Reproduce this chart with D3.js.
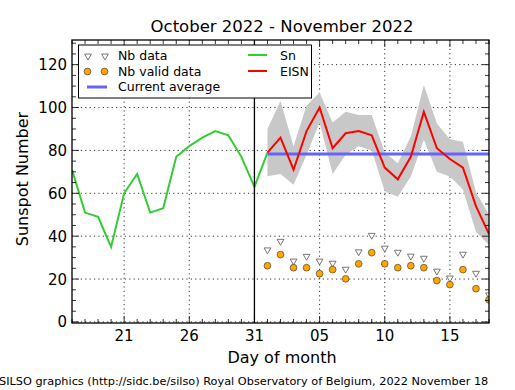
<!DOCTYPE html>
<html>
<head>
<meta charset="utf-8">
<script src="https://cdn.jsdelivr.net/npm/d3@7"></script>
<style>
html,body{margin:0;padding:0;background:#fff;}
svg{display:block;}
text{font-family:"DejaVu Sans",sans-serif;}
</style>
</head>
<body>
<svg id="chart" width="515" height="390"></svg>
<script>
// ---- data ----
const snStart = "2022-10-17";
const snValues = [71, 51, 49, 35, 60, 69, 51, 53, 77, 82, 86, 89, 87, 77, 63, 79];
const eisnStart = "2022-11-01";
const eisnValues = [79, 86, 71, 89, 100, 81, 88, 89, 87, 72, 66.5, 77, 98, 81, 76, 72, 54, 41];
const eisnUpper = [90, 103, 82, 101, 107, 93, 98, 96.5, 96.5, 79, 74, 86.5, 110.5, 92.6, 85.2, 84, 60.5, 50];
const eisnLower = [68, 69, 64, 78, 93, 69, 78, 82, 80, 61, 58.4, 67.8, 85, 70, 67.8, 61.8, 42, 36];
const nbData = [33.6, 37.6, 28.4, 30.6, 28.4, 27.4, 24.6, 32.7, 40.4, 34.4, 32.5, 30.7, 29.7, 23.7, 20.5, 31.6, 22.7, 12.6];
const nbValid = [26.2, 31.4, 25.3, 25.3, 22.5, 24.4, 20.1, 27.1, 32.3, 27.1, 25.3, 26.2, 25.3, 19.3, 17.4, 24.4, 15.5, 10.3];
const currentAverage = 78.3;
const xTickDates = ["2022-10-21", "2022-10-26", "2022-10-31", "2022-11-05", "2022-11-10", "2022-11-15"];
const xTickLabels = ["21", "26", "31", "05", "10", "15"];
const yTickValues = [0, 20, 40, 60, 80, 100, 120];
const separatorDate = "2022-10-31";
const titleText = "October 2022 - November 2022";
const footerText = "SILSO graphics (http://sidc.be/silso) Royal Observatory of Belgium, 2022 November 18";

// ---- helpers ----
const parse = d3.utcParse("%Y-%m-%d");
const dayAfter = (start, i) => d3.utcDay.offset(parse(start), i);

const L = 72, R = 489, T = 40, B = 323;
const x = d3.scaleUtc().domain([parse("2022-10-17"), parse("2022-11-18")]).range([L, R]);
const y = d3.scaleLinear().domain([-0.5, 131.5]).range([B, T]);

const svg = d3.select("#chart");
svg.append("defs").append("clipPath").attr("id", "clip")
  .append("rect").attr("x", L).attr("y", T).attr("width", R - L).attr("height", B - T);

// grid
const grid = svg.append("g");
xTickDates.forEach(d => {
  grid.append("line").attr("x1", x(parse(d))).attr("x2", x(parse(d)))
    .attr("y1", T).attr("y2", B)
    .attr("stroke", "#000").attr("stroke-width", 0.8).attr("stroke-dasharray", "1.2,3.2");
});
yTickValues.forEach(v => {
  grid.append("line").attr("x1", L).attr("x2", R).attr("y1", y(v)).attr("y2", y(v))
    .attr("stroke", "#000").attr("stroke-width", 0.8).attr("stroke-dasharray", "1.2,3.2");
});

const plot = svg.append("g").attr("clip-path", "url(#clip)");

// band
const eisnData = eisnValues.map((v, i) => ({d: dayAfter(eisnStart, i), v, up: eisnUpper[i], lo: eisnLower[i]}));
plot.append("path").datum(eisnData)
  .attr("d", d3.area().x(p => x(p.d)).y0(p => y(p.lo)).y1(p => y(p.up)))
  .attr("fill", "#c8c8c8").attr("stroke", "none");

// current average
plot.append("line")
  .attr("x1", x(parse(eisnStart))).attr("x2", R)
  .attr("y1", y(currentAverage)).attr("y2", y(currentAverage))
  .attr("stroke", "#6464ff").attr("stroke-width", 3);

// EISN
plot.append("path").datum(eisnData)
  .attr("d", d3.line().x(p => x(p.d)).y(p => y(p.v)))
  .attr("fill", "none").attr("stroke", "#ff0000").attr("stroke-width", 2);

// Sn
const snData = snValues.map((v, i) => ({d: dayAfter(snStart, i), v}));
plot.append("path").datum(snData)
  .attr("d", d3.line().x(p => x(p.d)).y(p => y(p.v)))
  .attr("fill", "none").attr("stroke", "#33cc33").attr("stroke-width", 2);

// markers
const tri = d3.symbol().type(d3.symbolTriangle).size(20);
plot.selectAll(".nb").data(nbData).enter().append("path")
  .attr("d", tri)
  .attr("transform", (v, i) => `translate(${x(dayAfter(eisnStart, i))},${y(v)}) rotate(180)`)
  .attr("fill", "#fff").attr("stroke", "#555").attr("stroke-width", 0.8);
plot.selectAll(".nbv").data(nbValid).enter().append("circle")
  .attr("cx", (v, i) => x(dayAfter(eisnStart, i))).attr("cy", v => y(v)).attr("r", 3.4)
  .attr("fill", "#ffa500").attr("stroke", "#333").attr("stroke-width", 0.6);

// separator
svg.append("line").attr("x1", x(parse(separatorDate))).attr("x2", x(parse(separatorDate)))
  .attr("y1", T).attr("y2", B).attr("stroke", "#000").attr("stroke-width", 1.3);

// ticks
const ticks = svg.append("g").attr("stroke", "#000").attr("stroke-width", 0.8);
d3.utcDay.range(parse("2022-10-17"), d3.utcDay.offset(parse("2022-11-18"), 1)).forEach(d => {
  const major = xTickDates.includes(d3.utcFormat("%Y-%m-%d")(d));
  const len = major ? 7 : 4;
  const xx = x(d);
  ticks.append("line").attr("x1", xx).attr("x2", xx).attr("y1", B).attr("y2", B - len);
  ticks.append("line").attr("x1", xx).attr("x2", xx).attr("y1", T).attr("y2", T + len);
});
d3.range(0, 135, 5).forEach(v => {
  const major = v % 20 === 0;
  const len = major ? 7 : 4;
  ticks.append("line").attr("x1", L).attr("x2", L + len).attr("y1", y(v)).attr("y2", y(v));
  ticks.append("line").attr("x1", R).attr("x2", R - len).attr("y1", y(v)).attr("y2", y(v));
});

// frame
svg.append("rect").attr("x", L).attr("y", T).attr("width", R - L).attr("height", B - T)
  .attr("fill", "none").attr("stroke", "#000").attr("stroke-width", 1.3);

// tick labels
xTickDates.forEach((d, i) => {
  svg.append("text").attr("x", x(parse(d))).attr("y", 341).attr("text-anchor", "middle")
    .attr("font-size", 15).text(xTickLabels[i]);
});
yTickValues.forEach(v => {
  svg.append("text").attr("x", 67).attr("y", y(v) + 5.5).attr("text-anchor", "end")
    .attr("font-size", 15).text(v);
});

// titles
svg.append("text").attr("x", 282).attr("y", 32).attr("text-anchor", "middle")
  .attr("font-size", 16.5).text(titleText);
svg.append("text").attr("x", 282).attr("y", 363).attr("text-anchor", "middle")
  .attr("font-size", 16).text("Day of month");
svg.append("text").attr("transform", "translate(28,179) rotate(-90)").attr("text-anchor", "middle")
  .attr("font-size", 16).text("Sunspot Number");
svg.append("text").attr("x", -1).attr("y", 385).attr("font-family", "DejaVu Serif, serif")
  .attr("font-size", 11.3).text(footerText);

// legend
const lg = svg.append("g");
lg.append("rect").attr("x", 78.5).attr("y", 45).attr("width", 233).attr("height", 53)
  .attr("fill", "#fff").attr("stroke", "#000").attr("stroke-width", 1);
[88, 105].forEach(px => {
  lg.append("path").attr("d", tri).attr("transform", `translate(${px},56) rotate(180)`)
    .attr("fill", "#fff").attr("stroke", "#555").attr("stroke-width", 0.8);
  lg.append("circle").attr("cx", px - 0.5).attr("cy", 71.5).attr("r", 3.4)
    .attr("fill", "#ffa500").attr("stroke", "#333").attr("stroke-width", 0.6);
});
lg.append("line").attr("x1", 87).attr("x2", 107).attr("y1", 87).attr("y2", 87)
  .attr("stroke", "#6464ff").attr("stroke-width", 3);
lg.append("line").attr("x1", 248).attr("x2", 267).attr("y1", 55).attr("y2", 55)
  .attr("stroke", "#33cc33").attr("stroke-width", 2);
lg.append("line").attr("x1", 248).attr("x2", 267).attr("y1", 71).attr("y2", 71)
  .attr("stroke", "#ff0000").attr("stroke-width", 2);
const lt = [["Nb data", 118, 60], ["Nb valid data", 118, 76], ["Current average", 118, 91], ["Sn", 280, 60], ["EISN", 280, 76]];
lt.forEach(([t, lx, ly]) => lg.append("text").attr("x", lx).attr("y", ly).attr("font-size", 12.5).text(t));
</script>
</body>
</html>
